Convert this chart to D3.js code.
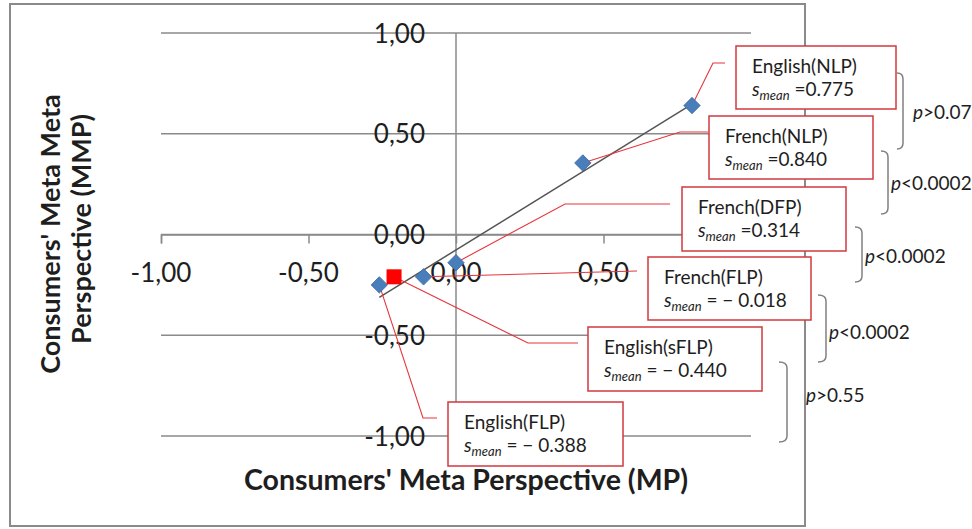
<!DOCTYPE html>
<html><head><meta charset="utf-8">
<script src="https://cdn.jsdelivr.net/npm/d3@7/dist/d3.min.js"></script>
<style>
html,body{margin:0;padding:0;background:#fff;}
svg{display:block;font-family:Lato,"Open Sans",sans-serif;}
</style></head>
<body><svg id="c" width="972" height="529"></svg>
<script>
// ---------- data ----------
const xBlue = [0.80, 0.43, 0.00, -0.11, -0.26];
const yBlue = [0.64, 0.355, -0.14, -0.21, -0.25];
const xRed = [-0.21];
const yRed = [-0.21];
const tickValues = [-1, -0.5, 0, 0.5, 1];
const xLabelValues = [-1, -0.5, 0, 0.5];          // the 1,00 label is hidden behind a callout in the original
const xTickLabels = ["-1,00", "-0,50", "0,00", "0,50"];
const yTickLabels = ["-1,00", "-0,50", "0,00", "0,50", "1,00"];
const groupNames = ["English(NLP)", "French(NLP)", "French(DFP)", "French(FLP)", "English(sFLP)", "English(FLP)"];
const sMeans = ["0.775", "0.840", "0.314", "-0.018", "-0.440", "-0.388"];
const pSigns = [">", "<", "<", "<", ">"];
const pValues = ["0.07", "0.0002", "0.0002", "0.0002", "0.55"];
const xTitle = "Consumers' Meta Perspective (MP)";
const yTitleLines = ["Consumers' Meta Meta", "Perspective (MMP)"];

// ---------- layout ----------
const svg = d3.select("#c");
const x = d3.scaleLinear().domain([-1, 1]).range([161, 751]);
const y = d3.scaleLinear().domain([-1, 1]).range([436, 33]);
const gridCol = "#8a8a8a", red = "#d0393f", lead = "#e8343c", txt = "#1e1e1e";

// outer chart border
svg.append("rect").attr("x", 10).attr("y", 4).attr("width", 795).attr("height", 522)
  .attr("fill", "none").attr("stroke", gridCol).attr("stroke-width", 2);

// horizontal gridlines
svg.append("g").selectAll("line").data(tickValues).join("line")
  .attr("x1", x(-1)).attr("x2", x(1)).attr("y1", d => y(d)).attr("y2", d => y(d))
  .attr("stroke", gridCol).attr("stroke-width", 1.5);

// y axis (vertical line at x=0)
svg.append("line").attr("x1", x(0)).attr("x2", x(0)).attr("y1", y(1)).attr("y2", y(-1))
  .attr("stroke", gridCol).attr("stroke-width", 1.5);

// x axis ticks (down)
const xAxis = d3.axisBottom(x).tickValues(tickValues).tickSize(9).tickFormat("");
const gx = svg.append("g").attr("transform", `translate(0,${y(0)})`).call(xAxis);
gx.select(".domain").attr("stroke", gridCol).attr("stroke-width", 1.5);
gx.selectAll(".tick line").attr("stroke", gridCol).attr("stroke-width", 1.5);

// y tick labels
svg.append("g").selectAll("text").data(tickValues).join("text")
  .attr("x", 425).attr("y", d => y(d) + 9.5).attr("text-anchor", "end")
  .attr("font-size", 26).attr("fill", txt)
  .text((d, i) => yTickLabels[i]);

// x tick labels
svg.append("g").selectAll("text").data(xLabelValues).join("text")
  .attr("x", d => x(d)).attr("y", 282).attr("text-anchor", "middle")
  .attr("font-size", 26).attr("fill", txt)
  .text((d, i) => xTickLabels[i]);

// axis titles
svg.append("text").attr("x", 466).attr("y", 490).attr("text-anchor", "middle")
  .attr("font-size", 28.5).attr("font-weight", "bold").attr("fill", txt).text(xTitle);
svg.append("text").attr("transform", "translate(60,234) rotate(-90)").attr("text-anchor", "middle")
  .attr("font-size", 27).attr("font-weight", "bold").attr("fill", txt).text(yTitleLines[0]);
svg.append("text").attr("transform", "translate(91,229) rotate(-90)").attr("text-anchor", "middle")
  .attr("font-size", 27).attr("font-weight", "bold").attr("fill", txt).text(yTitleLines[1]);

// trend line (least squares on the blue series)
const n = xBlue.length;
const mx = d3.mean(xBlue), my = d3.mean(yBlue);
let sxy = 0, sxx = 0;
for (let i = 0; i < n; i++) { sxy += (xBlue[i] - mx) * (yBlue[i] - my); sxx += (xBlue[i] - mx) ** 2; }
const slope = sxy / sxx, icpt = my - slope * mx;
const tx = d3.extent(xBlue);
svg.append("line").attr("x1", x(tx[0])).attr("y1", y(slope * tx[0] + icpt))
  .attr("x2", x(tx[1])).attr("y2", y(slope * tx[1] + icpt))
  .attr("stroke", "#555").attr("stroke-width", 1.5);

// annotation anchors
const anchors = [
  [x(xBlue[0]), y(yBlue[0])],
  [x(xBlue[1]), y(yBlue[1])],
  [x(xBlue[2]), y(yBlue[2])],
  [x(xBlue[3]), y(yBlue[3])],
  [x(xRed[0]), y(yRed[0])],
  [x(xBlue[4]), y(yBlue[4])]
];
const elbows = [
  [[713, 63], [725, 63]],
  [[680, 132], [708, 132]],
  [[565, 204], [670, 204]],
  [[637, 271]],
  [[528, 343], [578, 343]],
  [[423, 418], [437, 418]]
];
svg.append("g").selectAll("path").data(groupNames).join("path")
  .attr("d", (d, i) => d3.line()([anchors[i], ...elbows[i]]))
  .attr("fill", "none").attr("stroke", lead).attr("stroke-width", 1.1);

// markers
svg.append("g").selectAll("rect").data(xBlue).join("rect")
  .attr("x", -5.8).attr("y", -5.8).attr("width", 11.6).attr("height", 11.6)
  .attr("transform", (d, i) => `translate(${x(d)},${y(yBlue[i])}) rotate(45)`)
  .attr("fill", "#4a7ebb").attr("stroke", "#3c6aa5").attr("stroke-width", 0.8);
svg.append("g").selectAll("rect").data(xRed).join("rect")
  .attr("x", d => x(d) - 7.5).attr("y", (d, i) => y(yRed[i]) - 7.5)
  .attr("width", 15).attr("height", 15).attr("fill", "#ff0000");

// annotation boxes
const boxes = [
  [736, 46, 160, 63], [709, 116, 164, 63], [682, 187, 164, 64],
  [648, 257, 163, 63], [588, 327, 174, 64], [448, 402, 175, 64]
];
const gb = svg.append("g").selectAll("g").data(groupNames).join("g")
  .attr("transform", (d, i) => `translate(${boxes[i][0]},${boxes[i][1]})`);
gb.append("rect").attr("width", (d, i) => boxes[i][2]).attr("height", (d, i) => boxes[i][3])
  .attr("fill", "#fff").attr("stroke", red).attr("stroke-width", 1.5);
gb.append("text").attr("x", 16).attr("y", 27).attr("font-size", 19).attr("fill", txt).text(d => d);
const t2 = gb.append("text").attr("x", 16).attr("y", 50).attr("font-size", 19).attr("fill", txt);
t2.append("tspan").attr("font-style", "italic").text("s");
t2.append("tspan").attr("font-style", "italic").attr("font-size", 13).attr("dy", 4).text("mean");
t2.append("tspan").attr("dy", -4).text((d, i) => {
  const v = sMeans[i];
  return v.startsWith("-") ? " = \u2212 " + v.slice(1) : " =" + v;
});

// brackets
const brackets = [
  [897, 903, 73, 149], [881, 888, 151, 214], [855, 862, 227, 282],
  [818, 826, 295, 362], [779, 787, 362, 442]
];
const pPos = [[913, 119], [891, 190], [865, 263], [829, 339], [806, 402]];
svg.append("g").selectAll("path").data(pValues).join("path")
  .attr("d", (d, i) => {
    const [a, b, t, u] = brackets[i], r = 6;
    return `M${a},${t} Q${b},${t} ${b},${t + r} L${b},${u - r} Q${b},${u} ${a},${u}`;
  })
  .attr("fill", "none").attr("stroke", "#808080").attr("stroke-width", 1.5);
const pt = svg.append("g").selectAll("text").data(pValues).join("text")
  .attr("x", (d, i) => pPos[i][0]).attr("y", (d, i) => pPos[i][1])
  .attr("font-size", 19).attr("fill", txt);
pt.append("tspan").attr("font-style", "italic").text("p");
pt.append("tspan").text((d, i) => pSigns[i] + d);
</script></body></html>
